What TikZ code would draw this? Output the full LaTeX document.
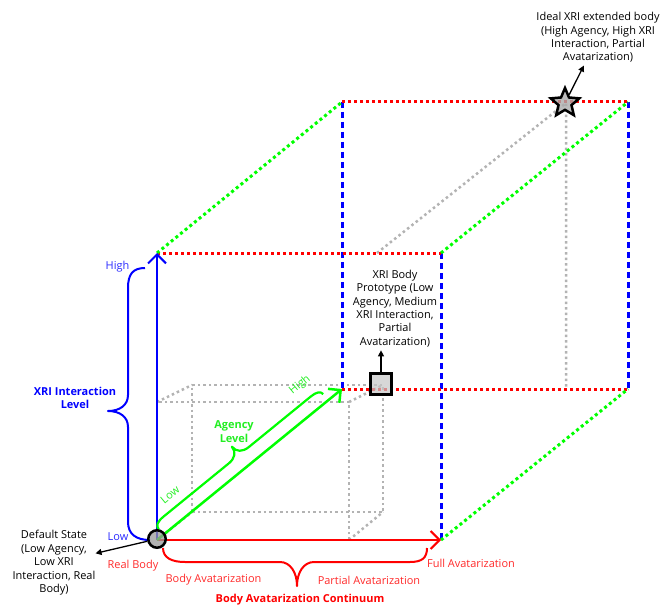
\documentclass[tikz,border=0pt]{standalone}
\usepackage{fontspec}
\setmainfont{Open Sans}
\usetikzlibrary{arrows.meta,shapes.geometric}
\definecolor{cblue}{HTML}{0000FF}
\definecolor{cred}{HTML}{FF0000}
\definecolor{cgreen}{HTML}{00FF00}
\definecolor{cgray}{HTML}{B3B3B3}
\definecolor{tblue}{HTML}{2A2AFF}
\definecolor{tred}{HTML}{FF2A2A}
\definecolor{tgreen}{HTML}{22EE22}
\begin{document}
\begin{tikzpicture}[x=1bp,y=-1bp,
  reddot/.style={cred,line width=3bp,dash pattern=on 3bp off 3bp},
  greendot/.style={cgreen,line width=3bp,dash pattern=on 3bp off 3bp},
  bluedash/.style={cblue,line width=3bp,dash pattern=on 6bp off 4bp},
  graydot/.style={cgray,line width=2.5bp,dash pattern=on 2.5bp off 3bp},
  axis/.style={line width=2bp,-{Straight Barb[length=9bp,width=18bp]}},
  brace/.style={line width=2bp,line join=round},
  lbl/.style={font=\fontsize{11}{13.5}\selectfont,align=center,inner sep=0pt},
  blbl/.style={font=\fontsize{11}{13.5}\selectfont\bfseries,align=center,inner sep=0pt},
  note/.style={line width=1.3bp,-{Triangle[length=6bp,width=6bp]}}]
\useasboundingbox (0,0) rectangle (668,607);
% big cube corners
\coordinate (o) at (157,540);
\coordinate (ftl) at (157,253);
\coordinate (ftr) at (441,253);
\coordinate (fbr) at (441,540);
\coordinate (btl) at (342,102);
\coordinate (btr) at (628,102);
\coordinate (bbr) at (628,389);
\coordinate (bbl) at (342,389);
% small cube corners
\coordinate (sfbr) at (349,540);
\coordinate (sftr) at (349,402);
\coordinate (sftl) at (157,402);
\coordinate (sbbl) at (192,512);
\coordinate (sbbr) at (383,512);
\coordinate (sbtr) at (383,385);
\coordinate (sbtl) at (192,385);
% star position
\coordinate (st) at (566,103);
\coordinate (sp) at (377,253);
% gray dotted
\draw[graydot] (o) -- (sfbr) -- (sftr) -- (sftl) -- cycle;
\draw[graydot] (sbbl) -- (sbbr) -- (sbtr) -- (sbtl) -- cycle;
\draw[graydot] (o) -- (sbbl) (sfbr) -- (sbbr) (sftr) -- (sbtr) (sftl) -- (sbtl);
\draw[graydot] (sp) -- (st) -- (st |- bbl);
% big cube edges
\draw[bluedash] (ftr) -- (fbr) (btl) -- (bbl) (btr) -- (bbr);
\draw[reddot] (ftl) -- (ftr) (btl) -- (btr) (bbl) -- (bbr);
\draw[greendot] (ftl) -- (btl) (ftr) -- (btr) (fbr) -- (bbr);
% axes
\draw[axis,cblue] (o) -- (ftl);
\draw[axis,cred] (o) -- (fbr);
\draw[axis,cgreen,line width=2.5bp] (o) -- (bbl);
% blue brace
\draw[brace,cblue] (145,268) .. controls (133,268) and (128,274) .. (128,288)
  -- (128,395) .. controls (128,405) and (120,411) .. (108,411)
  .. controls (120,411) and (128,417) .. (128,427)
  -- (128,522) .. controls (128,534) and (136,540) .. (150,540);
% red brace
\draw[brace,cred] (163,548) .. controls (163,558) and (172,562) .. (185,562)
  -- (280,562) .. controls (290,562) and (297,572) .. (297,586)
  .. controls (297,572) and (304,562) .. (314,562)
  -- (410,562) .. controls (422,562) and (427,558) .. (427,548);
% green brace
\begin{scope}[shift={(157,540)},rotate=39.2]
\draw[brace,cgreen,line width=2.2bp] (8,-7) .. controls (8,-12) and (12,-14) .. (20,-14)
  -- (104,-14) .. controls (112,-14) and (117,-18) .. (117,-25)
  .. controls (117,-18) and (122,-14) .. (130,-14)
  -- (210,-14) .. controls (217,-14) and (221,-12) .. (221,-8);
\end{scope}
% markers
\node[circle,draw=black,line width=2.5bp,fill=gray!80,fill opacity=0.75,
  minimum size=17.5bp,inner sep=0pt] (O) at (157,539) {};
\node[draw=black,line width=2.5bp,fill=gray!45,fill opacity=0.7,
  minimum size=21bp,inner sep=0pt] (sq) at (381,384) {};
\node[star,star points=5,star point ratio=2.2,draw=black,line width=2.5bp,
  fill=gray!65,fill opacity=0.8,minimum size=30bp,inner sep=0pt] (star) at (565,103) {};
% texts
\node[lbl] (ds) at (54,563) {Default State\\(Low Agency,\\Low XRI\\Interaction, Real\\Body)};
\node[lbl] (proto) at (395,308.5) {XRI Body\\Prototype (Low\\Agency, Medium\\XRI Interaction,\\Partial\\Avatarization)};
\node[lbl] (ideal) at (598,37.5) {Ideal XRI extended body\\(High Agency, High XRI\\Interaction, Partial\\Avatarization)};
\node[lbl,text=tblue] (hi) at (117.5,267) {High};
\node[lbl,text=tblue] (lo) at (118,537) {Low};
\node[blbl,text=cblue] (xri) at (75,398) {XRI Interaction\\Level};
\node[lbl,text=tred] (rb) at (133,566) {Real Body};
\node[lbl,text=tred] (ba) at (213.5,580) {Body Avatarization};
\node[lbl,text=tred] (pa) at (369,580) {Partial Avatarization};
\node[lbl,text=tred] (fa) at (471,563) {Full Avatarization};
\node[blbl,text=cred] (bac) at (300,600) {Body Avatarization Continuum};
\node[blbl,text=tgreen] (ag) at (234,431.5) {Agency\\Level};
\node[lbl,text=tgreen,rotate=39.2] (glo) at (170,495) {Low};
\node[lbl,text=tgreen,rotate=39.2] (ghi) at (300,385) {High};
% annotation arrows
\draw[note] (O) -- (ds);
\draw[note,shorten >=3bp] (sq.north) -- (sq.north |- proto.south);
\draw[note,shorten >=3bp] (star) -- (ideal);
\end{tikzpicture}
\end{document}
